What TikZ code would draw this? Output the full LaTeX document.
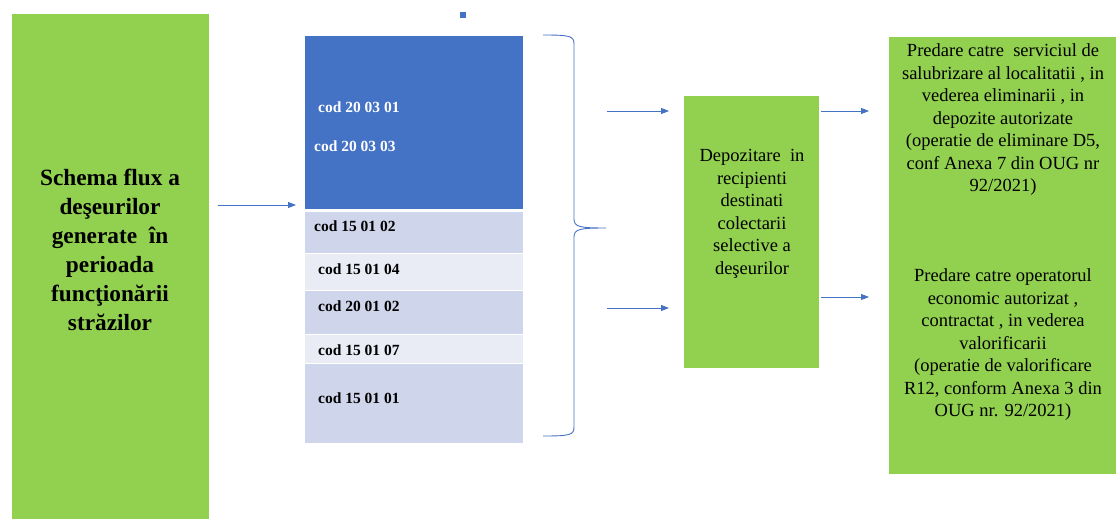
\documentclass[tikz,border=0pt]{standalone}
\usepackage{fontspec}
\setmainfont{Liberation Serif}
\usetikzlibrary{arrows.meta}

\definecolor{boxgreen}{HTML}{92D050}
\definecolor{codeblue}{HTML}{4472C4}
\definecolor{rowdark}{HTML}{CFD5EA}
\definecolor{rowlight}{HTML}{E9EBF5}

\tikzset{
  box/.style={anchor=north west, inner sep=0pt, draw=none},
  greenbox/.style={box, fill=boxgreen},
  rowbox/.style={box, draw=white, line width=1pt},
  codetext/.style={anchor=west, inner sep=0pt, font=\fontsize{15.5}{18}\selectfont\bfseries},
  boxtext/.style={align=center, inner sep=0pt, font=\fontsize{18.5}{22.5}\selectfont},
  flow/.style={draw=codeblue, line width=0.9pt, -{Triangle[length=8pt,width=6pt]}},
}

\begin{document}
\begin{tikzpicture}[x=1pt,y=-1pt]

\useasboundingbox (0,0) rectangle (1116,519);

% left box
\node[greenbox, minimum width=197pt, minimum height=505pt] (schema) at (12,14) {};
\node[align=center, inner sep=0pt, font=\fontsize{23.3}{29}\selectfont\bfseries] (schematext) at (110,250)
  {Schema flux a\\deşeurilor\\generate\ \ în\\perioada\\funcţionării\\străzilor};

% codes
\node[box, fill=codeblue, minimum size=6pt] (dot) at (460,12) {};
\node[rowbox, fill=codeblue, minimum width=219pt, minimum height=174pt] (blue) at (304,35) {};
\node[rowbox, fill=rowdark, minimum width=219pt, minimum height=42pt] (r1) at (304,211) {};
\node[rowbox, fill=rowlight, minimum width=219pt, minimum height=37pt] (r2) at (304,253) {};
\node[rowbox, fill=rowdark, minimum width=219pt, minimum height=44pt] (r3) at (304,290) {};
\node[rowbox, fill=rowlight, minimum width=219pt, minimum height=29pt] (r4) at (304,334) {};
\node[rowbox, fill=rowdark, minimum width=219pt, minimum height=80pt] (r5) at (304,363) {};

\node[codetext, text=white] (c1) at (318,107) {cod 20 03 01};
\node[codetext, text=white] (c2) at (314,146) {cod 20 03 03};
\node[codetext] (c3) at (314,226) {cod 15 01 02};
\node[codetext] (c4) at (318,269) {cod 15 01 04};
\node[codetext] (c5) at (318,306) {cod 20 01 02};
\node[codetext] (c6) at (318,350) {cod 15 01 07};
\node[codetext] (c7) at (318,398) {cod 15 01 01};

% brace
\coordinate (tip) at (606,228);
\draw[codeblue, line width=0.9pt] (543,35) .. controls (570,35) and (574,36) .. (574,44)
  -- (574,219) .. controls (574,227) and (580,228) .. (tip)
  .. controls (580,228) and (574,229) .. (574,237)
  -- (574,427) .. controls (574,435) and (570,436) .. (543,436);

% storage
\node[greenbox, minimum width=135pt, minimum height=272pt] (store) at (684,96) {};
\node[boxtext] (storetext) at (752,214)
  {Depozitare\ \ in\\recipienti\\destinati\\colectarii\\selective a\\deşeurilor};

% destinations
\node[greenbox, minimum width=227pt, minimum height=437pt] (dest) at (889,37) {};
\node[boxtext] (elim) at (1003,120)
  {Predare catre\ \ serviciul de\\salubrizare al localitatii , in\\vederea eliminarii , in\\depozite autorizate\\(operatie de eliminare D5,\\conf Anexa 7 din OUG nr\\92/2021)};
\node[boxtext] (valor) at (1003,345)
  {Predare catre operatorul\\economic autorizat ,\\contractat , in vederea\\valorificarii\\(operatie de valorificare\\R12, conform Anexa 3 din\\OUG nr. 92/2021)};

% arrows
\coordinate (inflow) at (0,205);
\coordinate (up) at (0,111);
\coordinate (down) at (0,308);
\coordinate (down2) at (0,297);

\draw[flow, shorten <=9pt, shorten >=8pt] (schema.east |- inflow) -- (blue.west |- inflow);
\draw[flow, shorten <=1pt, shorten >=15pt] (tip |- up) -- (store.west |- up);
\draw[flow, shorten <=1pt, shorten >=15pt] (tip |- down) -- (store.west |- down);
\draw[flow, shorten <=2pt, shorten >=20pt] (store.east |- up) -- (dest.west |- up);
\draw[flow, shorten <=2pt, shorten >=20pt] (store.east |- down2) -- (dest.west |- down2);

\end{tikzpicture}
\end{document}
